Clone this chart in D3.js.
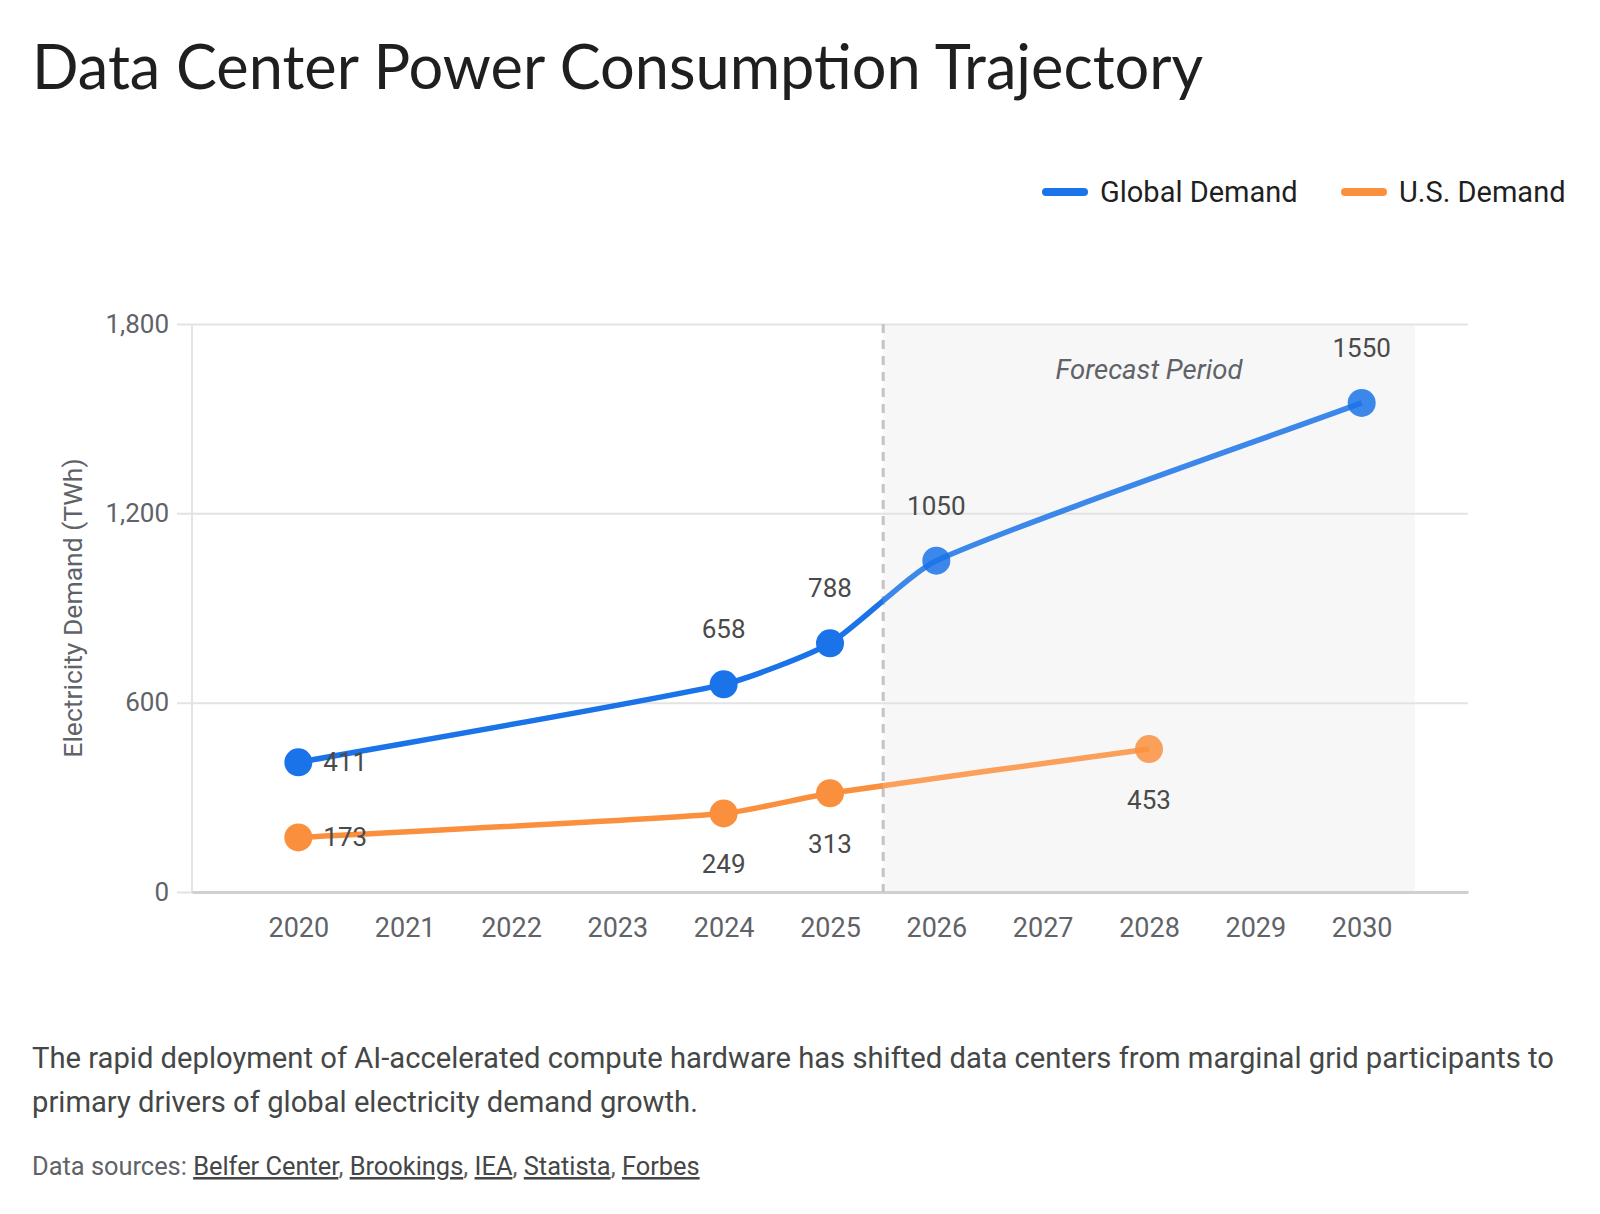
<!DOCTYPE html>
<html>
<head>
<meta charset="utf-8">
<script src="https://cdn.jsdelivr.net/npm/d3@7"></script>
<style>
  body { margin: 0; background: #ffffff; }
  svg { display: block; font-family: Roboto, "Noto Sans", sans-serif; }
</style>
</head>
<body>
<div id="chart"></div>
<script>
// chart values
var globalYears = [2020, 2024, 2025, 2026, 2030];
var globalValues = [411, 658, 788, 1050, 1550];
var usYears = [2020, 2024, 2025, 2028];
var usValues = [173, 249, 313, 453];
var xTickYears = [2020, 2021, 2022, 2023, 2024, 2025, 2026, 2027, 2028, 2029, 2030];
var yTickValues = [0, 600, 1200, 1800];
var forecastStart = 2025.5;
var forecastEnd = 2030.5;
var sourceNames = ["Belfer Center", "Brookings", "IEA", "Statista", "Forbes"];

var svgWidth = 1600;
var svgHeight = 1214;

var chartMargin = { top: 324, right: 132, bottom: 322, left: 192 };
var chartWidth = svgWidth - chartMargin.left - chartMargin.right;
var chartHeight = svgHeight - chartMargin.top - chartMargin.bottom;

var blue = "#1a73e8";
var orange = "#fa903e";

// smooth line with tension, control points weighted by segment length
function SplineCurve(context) { this._context = context; }
SplineCurve.prototype = {
  areaStart: function() { this._line = 0; },
  areaEnd: function() { this._line = NaN; },
  lineStart: function() { this._pts = []; },
  point: function(x, y) { this._pts.push([+x, +y]); },
  lineEnd: function() {
    var p = this._pts, c = this._context, t = 0.2, n = p.length;
    if (!n) return;
    var cpPrev = [], cpNext = [];
    for (var i = 0; i < n; i++) {
      var prev = p[i - 1] || p[i], cur = p[i], next = p[i + 1] || p[i];
      var d01 = Math.hypot(cur[0] - prev[0], cur[1] - prev[1]);
      var d12 = Math.hypot(next[0] - cur[0], next[1] - cur[1]);
      var s01 = d01 / (d01 + d12) || 0, s12 = d12 / (d01 + d12) || 0;
      var fa = t * s01, fb = t * s12;
      cpPrev.push([cur[0] - fa * (next[0] - prev[0]), cur[1] - fa * (next[1] - prev[1])]);
      cpNext.push([cur[0] + fb * (next[0] - prev[0]), cur[1] + fb * (next[1] - prev[1])]);
    }
    c.moveTo(p[0][0], p[0][1]);
    for (var j = 1; j < n; j++) {
      c.bezierCurveTo(cpNext[j - 1][0], cpNext[j - 1][1], cpPrev[j][0], cpPrev[j][1], p[j][0], p[j][1]);
    }
  }
};
function curveSpline(context) { return new SplineCurve(context); }

var svg = d3.select("#chart")
  .append("svg")
  .attr("width", svgWidth)
  .attr("height", svgHeight);

// title
svg.append("text")
  .attr("x", 32)
  .attr("y", 89)
  .attr("font-family", "Lato, Roboto, sans-serif")
  .attr("font-size", 61.3)
  .attr("fill", "#1f1f1f")
  .text("Data Center Power Consumption Trajectory");

// legend
var legendItems = [
  { name: "Global Demand", color: blue, x: 1046 },
  { name: "U.S. Demand", color: orange, x: 1345 }
];
var legend = svg.append("g").selectAll("g")
  .data(legendItems)
  .enter()
  .append("g")
  .attr("transform", d => `translate(${d.x}, 192)`);
legend.append("line")
  .attr("x1", 0).attr("x2", 38)
  .attr("stroke", d => d.color)
  .attr("stroke-width", 8)
  .attr("stroke-linecap", "round");
legend.append("text")
  .attr("x", 54)
  .attr("y", 10)
  .attr("font-size", 29)
  .attr("fill", "#1f1f1f")
  .text(d => d.name);

var chartGroup = svg.append("g")
  .attr("transform", `translate(${chartMargin.left}, ${chartMargin.top})`);

var xScale = d3.scaleLinear()
  .domain([2019, 2031])
  .range([0, chartWidth]);

var yScale = d3.scaleLinear()
  .domain([0, 1800])
  .range([chartHeight, 0]);

// forecast shading
chartGroup.append("rect")
  .attr("x", xScale(forecastStart))
  .attr("y", yScale(1800))
  .attr("width", xScale(forecastEnd) - xScale(forecastStart))
  .attr("height", yScale(0) - yScale(1800))
  .attr("fill", "#f7f7f7");

// y gridlines + labels
var leftAxis = d3.axisLeft(yScale)
  .tickValues(yTickValues)
  .tickSize(0)
  .tickPadding(23)
  .tickFormat(d3.format(","));
var yAxis = chartGroup.append("g")
  .call(leftAxis);
yAxis.select(".domain").remove();
yAxis.selectAll(".tick line")
  .attr("x1", -15)
  .attr("x2", chartWidth)
  .attr("stroke", "#e3e3e3")
  .attr("stroke-width", 2);
yAxis.selectAll(".tick text")
  .attr("font-size", 26)
  .attr("font-family", "Roboto, sans-serif")
  .attr("fill", "#5f6368");

// vertical axis line
chartGroup.append("line")
  .attr("x1", 0).attr("x2", 0)
  .attr("y1", yScale(1800)).attr("y2", yScale(0))
  .attr("stroke", "#e3e3e3")
  .attr("stroke-width", 2);

// x axis
var bottomAxis = d3.axisBottom(xScale)
  .tickValues(xTickYears)
  .tickSize(0)
  .tickPadding(26)
  .tickFormat(d3.format("d"));
var xAxis = chartGroup.append("g")
  .attr("transform", `translate(0, ${chartHeight})`)
  .call(bottomAxis);
xAxis.select(".domain")
  .attr("stroke", "#d0d0d0")
  .attr("stroke-width", 3);
xAxis.selectAll(".tick text")
  .attr("font-size", 27)
  .attr("font-family", "Roboto, sans-serif")
  .attr("fill", "#5f6368");

// forecast divider
chartGroup.append("line")
  .attr("x1", xScale(forecastStart)).attr("x2", xScale(forecastStart))
  .attr("y1", yScale(1800)).attr("y2", yScale(0))
  .attr("stroke", "#c4c4c4")
  .attr("stroke-width", 3)
  .attr("stroke-dasharray", "9,7");

chartGroup.append("text")
  .attr("x", (xScale(forecastStart) + xScale(forecastEnd)) / 2)
  .attr("y", yScale(1800) + 55)
  .attr("text-anchor", "middle")
  .attr("font-size", 27.5)
  .attr("font-style", "italic")
  .attr("fill", "#5f6368")
  .text("Forecast Period");

// clip paths: actual vs forecast part of the lines
var defs = svg.append("defs");
defs.append("clipPath").attr("id", "clipActual")
  .append("rect")
  .attr("x", -50).attr("y", -50)
  .attr("width", xScale(forecastStart) + 50)
  .attr("height", chartHeight + 100);
defs.append("clipPath").attr("id", "clipForecast")
  .append("rect")
  .attr("x", xScale(forecastStart)).attr("y", -50)
  .attr("width", chartWidth)
  .attr("height", chartHeight + 100);

var lineGen = d3.line()
  .x(d => xScale(d.year))
  .y(d => yScale(d.value))
  .curve(curveSpline);

var globalData = globalYears.map((y, i) => ({ year: y, value: globalValues[i] }));
var usData = usYears.map((y, i) => ({ year: y, value: usValues[i] }));

function drawSeries(data, color, labelPos) {
  var g = chartGroup.append("g");
  ["clipActual", "clipForecast"].forEach(function(clip) {
    g.append("path")
      .datum(data)
      .attr("d", lineGen)
      .attr("clip-path", `url(#${clip})`)
      .attr("fill", "none")
      .attr("stroke", color)
      .attr("stroke-width", 5.5)
      .attr("opacity", clip === "clipForecast" ? 0.85 : 1);
  });

  g.selectAll("circle")
    .data(data)
    .enter()
    .append("circle")
    .attr("cx", d => xScale(d.year))
    .attr("cy", d => yScale(d.value))
    .attr("r", 14)
    .attr("fill", color)
    .attr("opacity", d => d.year > forecastStart ? 0.85 : 1);

  g.selectAll("text")
    .data(data)
    .enter()
    .append("text")
    .attr("x", d => d.year === 2020 ? xScale(d.year) + 25 : xScale(d.year))
    .attr("y", function(d) {
      if (d.year === 2020) return yScale(d.value) + 9;
      return labelPos === "above" ? yScale(d.value) - 46 : yScale(d.value) + 60;
    })
    .attr("text-anchor", d => d.year === 2020 ? "start" : "middle")
    .attr("font-size", 26)
    .attr("fill", "#4a4a4a")
    .text(d => d.value);
}

drawSeries(usData, orange, "below");
drawSeries(globalData, blue, "above");

// y axis title
svg.append("text")
  .attr("transform", `translate(82, ${chartMargin.top + chartHeight / 2}) rotate(-90)`)
  .attr("text-anchor", "middle")
  .attr("font-size", 26.5)
  .attr("fill", "#5f6368")
  .text("Electricity Demand (TWh)");

// caption
var caption = svg.append("text")
  .attr("font-size", 29.2)
  .attr("fill", "#444746");
caption.append("tspan")
  .attr("x", 32).attr("y", 1068)
  .text("The rapid deployment of AI-accelerated compute hardware has shifted data centers from marginal grid participants to");
caption.append("tspan")
  .attr("x", 32).attr("y", 1112)
  .text("primary drivers of global electricity demand growth.");

// sources
var sources = svg.append("text")
  .attr("x", 32)
  .attr("y", 1175)
  .attr("font-size", 25.4)
  .attr("fill", "#5f6368");
sources.append("tspan").text("Data sources: ");
sourceNames.forEach(function(name, i) {
  sources.append("tspan")
    .attr("text-decoration", "underline")
    .attr("fill", "#444746")
    .text(name);
  if (i < sourceNames.length - 1) sources.append("tspan").text(", ");
});
</script>
</body>
</html>
